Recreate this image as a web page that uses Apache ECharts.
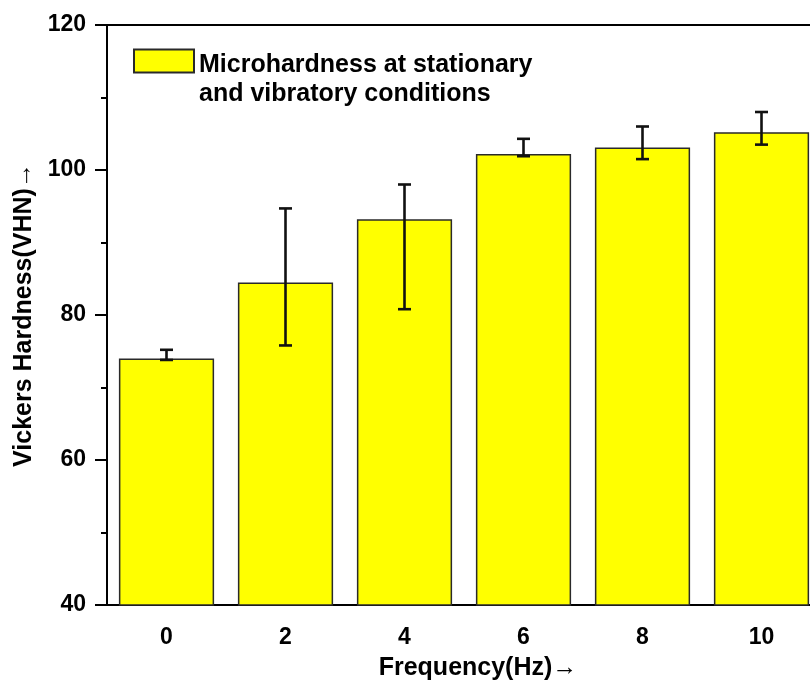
<!DOCTYPE html>
<html>
<head>
<meta charset="utf-8">
<script src="https://cdn.jsdelivr.net/npm/echarts@6/dist/echarts.min.js"></script>
<style>
  html, body { margin: 0; padding: 0; background: #fff; }
  #chart { width: 810px; height: 685px; }
</style>
</head>
<body>
<div id="chart"></div>
<script>
const categories = ['0', '2', '4', '6', '8', '10'];
const hardness = [74.0, 84.5, 93.2, 102.2, 103.1, 105.2];
const errLow = [73.8, 75.8, 80.8, 101.9, 101.5, 103.5];
const errHigh = [75.2, 94.7, 98.0, 104.3, 106.0, 108.0];
const yTicks = { min: 40, max: 120, interval: 20 };
const seriesName = 'Microhardness at stationary\nand vibratory conditions';

const font = '"Liberation Sans", Arial, sans-serif';
const chart = echarts.init(document.getElementById('chart'), null, { renderer: 'canvas' });

const option = {
  animation: false,
  backgroundColor: '#fff',
  grid: {
    left: 107, top: 25, right: -11, bottom: 80,
    outerBoundsMode: 'none',
    containLabel: false,
    show: true, borderColor: '#000', borderWidth: 2
  },
  legend: {
    left: 133, top: 27, padding: 0,
    icon: 'rect',
    itemWidth: 60, itemHeight: 23,
    data: [seriesName],
    // spacer line on top keeps the first text line level with the swatch
    formatter: function (name) {
      return '{s| }\n' + name.split('\n').map(l => '{t|' + l + '}').join('\n');
    },
    textStyle: {
      fontFamily: font, fontWeight: 'bold', fontSize: 25, color: '#000',
      rich: {
        s: { fontSize: 10, lineHeight: 37 },
        t: { fontFamily: font, fontWeight: 'bold', fontSize: 25, color: '#000', lineHeight: 29 }
      }
    }
  },
  xAxis: [
    {
      type: 'category',
      data: categories,
      name: 'Frequency(Hz)→',
      nameLocation: 'middle',
      nameGap: 63,
      nameTextStyle: {
        fontFamily: font, fontWeight: 'bold', fontSize: 25, color: '#000',
        verticalAlign: 'middle', padding: [0, 0, 0, 28]
      },
      axisLine: { lineStyle: { color: '#000', width: 2 } },
      axisTick: { alignWithLabel: true, length: 11, lineStyle: { color: '#000', width: 2 } },
      axisLabel: { margin: 21, fontFamily: font, fontWeight: 'bold', fontSize: 23, color: '#000' },
      splitLine: { show: false }
    },
    {
      type: 'category',
      data: categories,
      position: 'bottom',
      axisLine: { show: false },
      axisTick: { alignWithLabel: false, length: 6, lineStyle: { color: '#000', width: 2 } },
      axisLabel: { show: false },
      splitLine: { show: false }
    }
  ],
  yAxis: {
    type: 'value',
    min: yTicks.min, max: yTicks.max, interval: yTicks.interval,
    name: 'Vickers Hardness(VHN)→',
    nameLocation: 'middle',
    nameGap: 64,
    nameTextStyle: { fontFamily: font, fontWeight: 'bold', fontSize: 25, color: '#000' },
    axisLine: { show: true, lineStyle: { color: '#000', width: 2 } },
    axisTick: { show: true, length: 12, lineStyle: { color: '#000', width: 2 } },
    minorTick: { show: true, splitNumber: 2, length: 6, lineStyle: { color: '#000', width: 2 } },
    axisLabel: { margin: 21, fontFamily: font, fontWeight: 'bold', fontSize: 23, color: '#000' },
    splitLine: { show: false }
  },
  series: [
    {
      name: seriesName,
      type: 'bar',
      data: hardness,
      barWidth: '80%',
      itemStyle: { color: '#ffff00', borderColor: '#2a2a2a', borderWidth: 1.5 }
    },
    {
      type: 'custom',
      name: 'error',
      z: 10,
      data: categories.map((c, i) => [i, errLow[i], errHigh[i]]),
      renderItem: function (params, api) {
        const x = api.value(0);
        const lo = api.coord([x, api.value(1)]);
        const hi = api.coord([x, api.value(2)]);
        const hw = 6.5;
        const style = { stroke: '#111', lineWidth: 2.6 };
        return {
          type: 'group',
          children: [
            { type: 'line', shape: { x1: lo[0], y1: lo[1], x2: hi[0], y2: hi[1] }, style: style },
            { type: 'line', shape: { x1: lo[0] - hw, y1: lo[1], x2: lo[0] + hw, y2: lo[1] }, style: style },
            { type: 'line', shape: { x1: hi[0] - hw, y1: hi[1], x2: hi[0] + hw, y2: hi[1] }, style: style }
          ]
        };
      }
    }
  ]
};

chart.setOption(option);
</script>
</body>
</html>
